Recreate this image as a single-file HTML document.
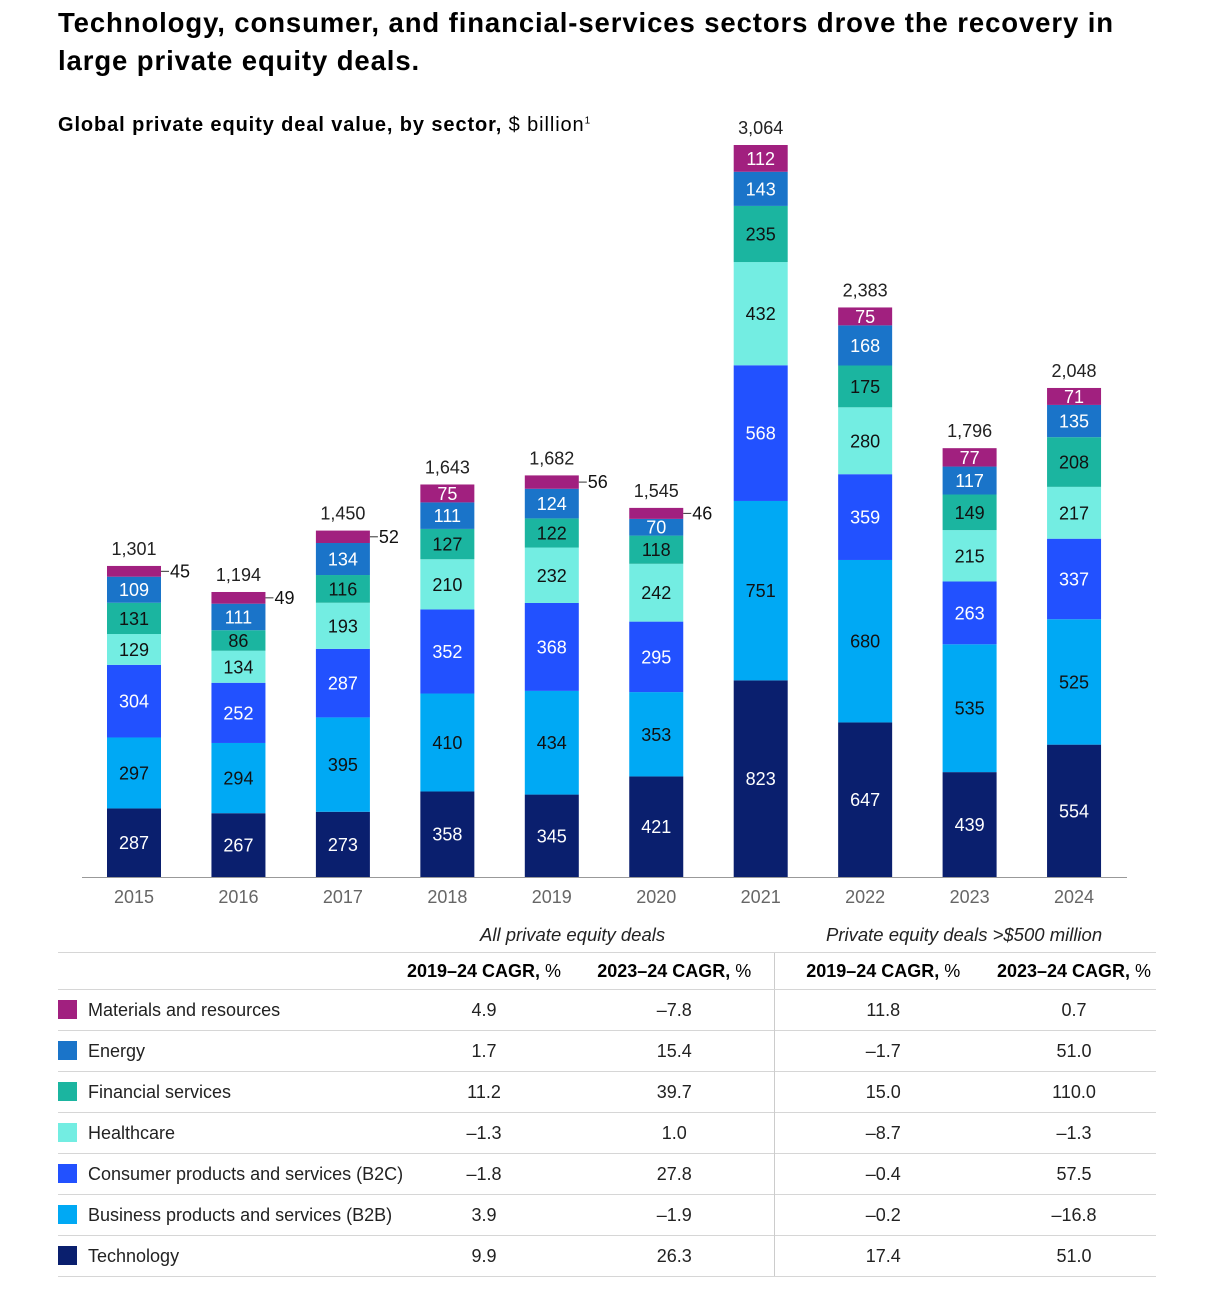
<!DOCTYPE html>
<html><head><meta charset="utf-8"><style>
body{margin:0;background:#fff;font-family:"Liberation Sans",sans-serif;color:#000;}
.wrap{position:relative;width:1206px;height:1307px;overflow:hidden;}
h1{position:absolute;left:58px;top:4px;margin:0;font-size:27.5px;line-height:38px;font-weight:bold;width:1110px;letter-spacing:0.9px}
.sub{position:absolute;left:58px;top:114px;font-size:20px;letter-spacing:0.9px}
svg text{font-family:"Liberation Sans",sans-serif}
table{position:absolute;left:58px;top:952px;width:1098px;border-collapse:collapse;font-size:18px;table-layout:fixed}
td{height:40px;border-top:1px solid #d6d6d6;padding:0;color:#222;white-space:nowrap}
tr:last-child td{border-bottom:1px solid #d6d6d6}
.sw{display:inline-block;width:19px;height:19px;vertical-align:-3px;margin-right:11px}
.hd td{height:36px;font-weight:bold;color:#000;font-size:18px}
.num{text-align:center}
.vl{border-left:1px solid #ccc}
.grp{position:absolute;top:924px;font-style:italic;font-size:18.5px;color:#222}
</style></head><body><div class="wrap">
<h1>Technology, consumer, and financial-services sectors drove the recovery in large private equity deals.</h1>
<div class="sub"><b>Global private equity deal value, by sector,</b> $ billion<sup style="font-size:10px">1</sup></div>
<svg id="chart" width="1206" height="920" style="position:absolute;left:0;top:0"></svg>
<div class="grp" style="left:480px">All private equity deals</div>
<div class="grp" style="left:826px">Private equity deals &gt;$500 million</div>
<table>
<colgroup><col style="width:335px"><col style="width:182px"><col style="width:199px"><col style="width:218px"><col></colgroup>
<tr class="hd"><td></td><td class="num">2019–24 CAGR, <span style="font-weight:normal">%</span></td><td class="num">2023–24 CAGR, <span style="font-weight:normal">%</span></td><td class="num vl">2019–24 CAGR, <span style="font-weight:normal">%</span></td><td class="num">2023–24 CAGR, <span style="font-weight:normal">%</span></td></tr>
<tbody id="tb"></tbody>
</table>
</div>
<script>
const years=["2015","2016","2017","2018","2019","2020","2021","2022","2023","2024"];
const technology=[287,267,273,358,345,421,823,647,439,554];
const b2b=[297,294,395,410,434,353,751,680,535,525];
const b2c=[304,252,287,352,368,295,568,359,263,337];
const healthcare=[129,134,193,210,232,242,432,280,215,217];
const financial=[131,86,116,127,122,118,235,175,149,208];
const energy=[109,111,134,111,124,70,143,168,117,135];
const materials=[45,49,52,75,56,46,112,75,77,71];
const totals=["1,301","1,194","1,450","1,643","1,682","1,545","3,064","2,383","1,796","2,048"];
const seriesNames=["Technology","Business products and services (B2B)","Consumer products and services (B2C)","Healthcare","Financial services","Energy","Materials and resources"];
const colors=["#0a1f6e","#00a9f4","#2251ff","#73ede2","#1bb5a0","#1a74c9","#a1207f"];
const textCol=["#fff","#111","#fff","#111","#111","#fff","#fff"];
const series=[technology,b2b,b2c,healthcare,financial,energy,materials];
const cagrA1=["4.9","1.7","11.2","–1.3","–1.8","3.9","9.9"];
const cagrA2=["–7.8","15.4","39.7","1.0","27.8","–1.9","26.3"];
const cagrB1=["11.8","–1.7","15.0","–8.7","–0.4","–0.2","17.4"];
const cagrB2=["0.7","51.0","110.0","–1.3","57.5","–16.8","51.0"];
const NS="http://www.w3.org/2000/svg";
const svg=document.getElementById("chart");
const base=877,k=732/3064;
const y=v=>base-v*k;
const x=i=>134+i*104.45;
const bw=54;
function mk(t,a){const e=document.createElementNS(NS,t);for(const q in a)e.setAttribute(q,a[q]);svg.appendChild(e);return e;}
years.forEach((yr,i)=>{
  let cum=0;
  series.forEach((s,j)=>{
    const v=s[i];
    const r=mk("rect",{x:x(i)-bw/2,y:y(cum+v),width:bw,height:v*k,fill:colors[j]});
    
    
    const mid=y(cum+v/2);
    if(j==6&&v<60){
      const l=mk("line",{x1:x(i)+bw/2,x2:x(i)+bw/2+8,y1:mid,y2:mid,stroke:"#333","stroke-width":1});
      
      
      const t=mk("text",{x:x(i)+bw/2+9,y:mid+6,"font-size":18,fill:"#111"});t.textContent=v;
      
      
    }else{
      const t=mk("text",{x:x(i),y:mid+6.5,"font-size":18,fill:textCol[j],"text-anchor":"middle"});t.textContent=v;
      
      
    }
    cum+=v;
  });
  const tt=mk("text",{x:x(i),y:y(cum)-11,"font-size":18,fill:"#222","text-anchor":"middle"});tt.textContent=totals[i];
  
  
  const xl=mk("text",{x:x(i),y:903,"font-size":18,fill:"#666","text-anchor":"middle"});xl.textContent=yr;
  
  
});
const ax=mk("line",{x1:82,x2:1127,y1:base+0.5,y2:base+0.5,stroke:"#999","stroke-width":1});


const tb=document.getElementById("tb");
const order=[6,5,4,3,2,1,0];
order.forEach((si,r)=>{
  const tr=document.createElement("tr");
  
  
  tr.innerHTML='<td><span class="sw" style="background:'+colors[si]+'"></span>'+seriesNames[si]+'</td><td class="num">'+cagrA1[r]+'</td><td class="num">'+cagrA2[r]+'</td><td class="num vl">'+cagrB1[r]+'</td><td class="num">'+cagrB2[r]+'</td>';
  tb.appendChild(tr);
});
</script>
</body></html>
